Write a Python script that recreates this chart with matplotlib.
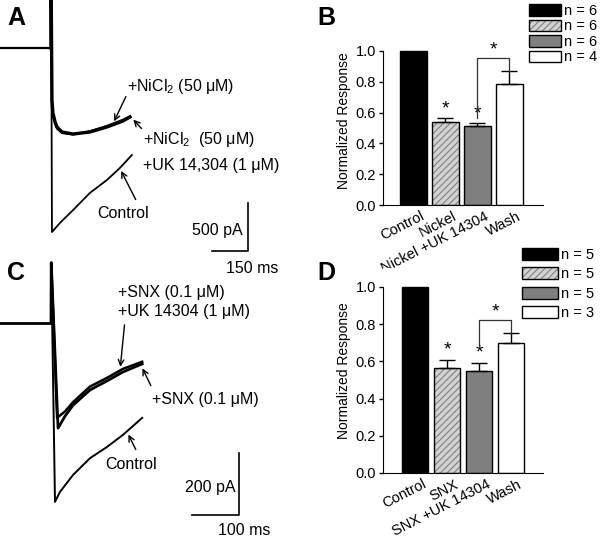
import matplotlib
matplotlib.use("Agg")
import matplotlib.pyplot as plt
from matplotlib.transforms import ScaledTranslation

plt.rcParams["font.family"] = ["Liberation Sans", "DejaVu Sans"]
plt.rcParams["mathtext.fontset"] = "custom"
plt.rcParams["mathtext.rm"] = "Liberation Sans"
plt.rcParams["mathtext.it"] = "Liberation Sans:italic"
plt.rcParams["hatch.linewidth"] = 0.8

# ---------------- data ----------------
# Panel A traces (time in ms, current in pA)
a_base_t = [-215, 0]
a_base_i = [0, 0]
a_ctrl_t = [0, 0.5, 4, 37, 92, 162, 233, 287, 337]
a_ctrl_i = [0, 700, -1917, -1823, -1688, -1510, -1375, -1250, -1115]
a_ni_t = [0, 0.5, 4, 8, 17, 25, 46, 92, 162, 233, 300, 329]
a_ni_i = [0, 700, -542, -677, -771, -823, -875, -896, -875, -823, -760, -719]
a_niuk_t = [4, 8, 17, 25, 46, 92, 162, 233, 300, 329]
a_niuk_i = [-560, -690, -785, -838, -885, -900, -868, -812, -748, -712]

# Panel C traces
c_base_t = [-110, 0]
c_base_i = [0, 0]
c_ctrl_t = [0, 0.5, 8.5, 19, 47, 83, 119, 153, 194]
c_ctrl_i = [0, 194, -577, -545, -490, -436, -400, -361, -306]
c_snx_t = [0, 0.5, 15, 30, 47, 83, 119, 153, 194]
c_snx_i = [0, 194, -339, -300, -265, -216, -187, -158, -132]
c_snxuk_t = [0.5, 13, 30, 47, 83, 119, 153, 194]
c_snxuk_i = [194, -306, -285, -255, -205, -177, -148, -125]

# Panel B bars
b_labels = ["Control", "Nickel", "Nickel +UK 14304", "Wash"]
b_values = [1.0, 0.536, 0.512, 0.784]
b_errors = [0.0, 0.030, 0.022, 0.086]
b_n = ["n = 6", "n = 6", "n = 6", "n = 4"]

# Panel D bars
d_labels = ["Control", "SNX", "SNX +UK 14304", "Wash"]
d_values = [1.0, 0.565, 0.547, 0.699]
d_errors = [0.0, 0.044, 0.046, 0.055]
d_n = ["n = 5", "n = 5", "n = 5", "n = 3"]

W, H = 600, 539
fig = plt.figure(figsize=(W / 100, H / 100), dpi=100)


def px_axes(left, top, right, bottom):
    return fig.add_axes([left / W, 1 - bottom / H, (right - left) / W, (bottom - top) / H])


TXT = 11.5


def trace_panel(ax, ms_px, pa_px, x0, y0, top, bottom):
    # x0/y0: pixel position of t=0, I=0 inside the axes box
    ax.set_xlim(-x0 * ms_px, (300 - x0) * ms_px)
    ax.set_ylim(-(bottom - y0) * pa_px, (y0 - top) * pa_px)
    ax.axis("off")


def scalebar(ax, t_end, i_bot, dt, di):
    ax.plot([t_end - dt, t_end, t_end], [i_bot, i_bot, i_bot + di], color="black", lw=1.2)


def arrow(ax, tail, tip):
    ax.annotate("", xy=tip, xytext=tail,
                arrowprops=dict(arrowstyle="->", color="black", lw=1.0, mutation_scale=10))


# ---------------- panel A ----------------
axA = px_axes(0, 0, 300, 262)
trace_panel(axA, 150 / 36, 500 / 48, 51, 48, 0, 262)
axA.plot(a_base_t, a_base_i, color="black", lw=1.6)
axA.plot(a_ctrl_t, a_ctrl_i, color="black", lw=1.3)
axA.plot(a_ni_t, a_ni_i, color="black", lw=2.4)
axA.plot(a_niuk_t, a_niuk_i, color="black", lw=1.6)
axA.text(317, -406, "+NiCl$_2$ (50 μM)", fontsize=TXT, va="center")
arrow(axA, (317, -480), (258, -790))
axA.text(383, -958, "+NiCl$_2$  (50 μM)", fontsize=TXT, va="center")
axA.text(383, -1219, "+UK 14,304 (1 μM)", fontsize=TXT, va="center")
arrow(axA, (385, -860), (335, -725))
axA.text(300, -1719, "Control", fontsize=TXT, va="center", ha="center")
arrow(axA, (358, -1604), (287, -1255))
scalebar(axA, 821, -2115, 150, 500)
axA.text(800, -1896, "500 pA", fontsize=TXT, va="center", ha="right")
axA.text(837, -2292, "150 ms", fontsize=TXT, va="center", ha="center")

# ---------------- panel C ----------------
axC = px_axes(0, 255, 300, 539)
trace_panel(axC, 100 / 47, 200 / 62, 51, 68, 0, 284)
axC.plot(c_base_t, c_base_i, color="black", lw=2.0)
axC.plot(c_ctrl_t, c_ctrl_i, color="black", lw=1.4)
axC.plot(c_snx_t, c_snx_i, color="black", lw=2.0)
axC.plot(c_snxuk_t, c_snxuk_i, color="black", lw=1.8)
axC.text(142.6, 100, "+SNX (0.1 μM)", fontsize=TXT, va="center")
axC.text(142.6, 35.5, "+UK 14304 (1 μM)", fontsize=TXT, va="center")
arrow(axC, (157, 3), (147, -150))
axC.text(215, -248, "+SNX (0.1 μM)", fontsize=TXT, va="center")
arrow(axC, (215, -210), (192, -138))
axC.text(170, -458, "Control", fontsize=TXT, va="center", ha="center")
arrow(axC, (183, -416), (162, -352))
scalebar(axC, 400, -619, 100, 200)
axC.text(391.5, -532, "200 pA", fontsize=TXT, va="center", ha="right")
axC.text(410.6, -668, "100 ms", fontsize=TXT, va="center", ha="center")


# ---------------- bar panels ----------------
def bar_panel(ax, labels, values, errors, n_labels, x_lo, bracket, leg_anchor, leg_space, hl, hh):
    x = list(range(len(values)))
    w = 0.84
    faces = ["black", "#c8c8c8", "#7f7f7f", "white"]
    handles = []
    for i in x:
        if i == 1:
            hb = ax.bar(i, values[i], w, color="#d2d2d2", edgecolor="#808080", hatch="/////", lw=0, zorder=2)
            ob = ax.bar(i, values[i], w, color="none", edgecolor="black", lw=1.0, zorder=3)
            handles.append((hb[0], ob[0]))
        else:
            b = ax.bar(i, values[i], w, color=faces[i], edgecolor="black", lw=1.0, zorder=2)
            handles.append(b[0])
    ax.errorbar(x[1:], values[1:], yerr=[[0] * 3, errors[1:]], fmt="none", ecolor="black",
                elinewidth=1.0, capsize=6, capthick=1.0, zorder=4)
    for i in (1, 2):
        ax.text(i, values[i] + errors[i] + 0.005, "*", fontsize=14, ha="center", va="bottom")
    y_left, y_top = bracket
    ax.plot([2, 2, 3, 3], [y_left, y_top, y_top, values[3] + errors[3]], color="#333333", lw=0.9, zorder=4)
    ax.text(2.5, y_top - 0.002, "*", fontsize=14, ha="center", va="bottom")

    ax.set_xlim(x_lo, x_lo + 5)
    ax.set_ylim(0, 1.1)
    ax.spines["top"].set_visible(False)
    ax.spines["right"].set_visible(False)
    ax.spines["left"].set_bounds(0, 1.0)
    ax.set_yticks([0.0, 0.2, 0.4, 0.6, 0.8, 1.0])
    ax.set_yticklabels(["0.0", "0.2", "0.4", "0.6", "0.8", "1.0"], fontsize=10.5)
    ax.tick_params(axis="y", direction="out", length=3, width=1, pad=2)
    ax.tick_params(axis="x", length=0, pad=3)
    ax.set_xticks(x)
    ax.set_xticklabels(labels, rotation=27, ha="right", va="top", rotation_mode="anchor", fontsize=10.5)
    shift = ScaledTranslation(7 / 100, 0, fig.dpi_scale_trans)
    for t in ax.get_xticklabels():
        t.set_transform(t.get_transform() + shift)
    ax.set_ylabel("Normalized Response", fontsize=10, labelpad=3)
    fig.legend(handles, n_labels, loc="upper left", bbox_to_anchor=leg_anchor, frameon=False,
               fontsize=10.5, borderpad=0, borderaxespad=0, handlelength=hl, handleheight=hh,
               handletextpad=0.2, labelspacing=leg_space)


axB = px_axes(383, 205 - 1.1 * 154, 543, 205)
bar_panel(axB, b_labels, b_values, b_errors, b_n, -0.95, (0.565, 0.955),
          (529 / W, 1 - 4 / H), 0.1, 2.2, 0.85)

axD = px_axes(383, 473 - 1.1 * 186, 543, 473)
bar_panel(axD, d_labels, d_values, d_errors, d_n, -1.0, (0.688, 0.823),
          (522 / W, 1 - 248 / H), 0.36, 2.45, 0.9)

# panel letters
for lab, xp, yp in [("A", 7, 6), ("B", 317, 6), ("C", 7, 261), ("D", 317, 261)]:
    fig.text(xp / W, 1 - yp / H, lab, fontsize=18, fontweight="bold", va="top", ha="left")

fig.savefig("out.png", dpi=100)
plt.close(fig)
